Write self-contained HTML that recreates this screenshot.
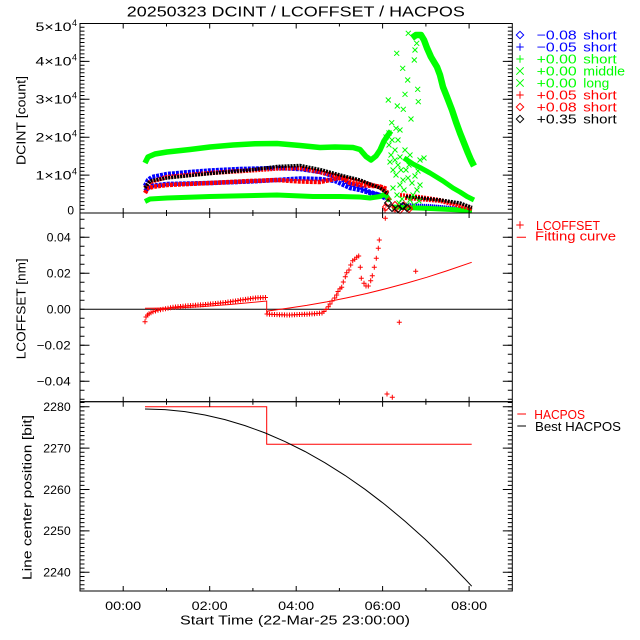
<!DOCTYPE html>
<html>
<head>
<meta charset="utf-8">
<style>
html,body{margin:0;padding:0;background:#fff;}
svg{display:block;}
text{font-family:"Liberation Sans",sans-serif;}
</style>
</head>
<body>
<svg width="640" height="640" viewBox="0 0 640 640" xmlns="http://www.w3.org/2000/svg">
<defs>
<marker id="mpr" markerWidth="7" markerHeight="7" refX="3.5" refY="3.5" markerUnits="userSpaceOnUse" overflow="visible"><path d="M1,3.5h5M3.5,1v5" stroke="#ff0000" stroke-width="1" fill="none"/></marker>
<marker id="mgx" markerWidth="7" markerHeight="7" refX="3.5" refY="3.5" markerUnits="userSpaceOnUse" overflow="visible"><path d="M1,1l5,5M6,1l-5,5" stroke="#00ff00" stroke-width="1" fill="none"/></marker>
<marker id="mdk" markerWidth="8" markerHeight="8" refX="4" refY="4" markerUnits="userSpaceOnUse" overflow="visible"><path d="M4,0.5L7.5,4L4,7.5L0.5,4Z" stroke="#000" stroke-width="1" fill="none"/></marker>
<marker id="mdr" markerWidth="8" markerHeight="8" refX="4" refY="4" markerUnits="userSpaceOnUse" overflow="visible"><path d="M4,0.5L7.5,4L4,7.5L0.5,4Z" stroke="#ff0000" stroke-width="1" fill="none"/></marker>
</defs>
<rect x="0" y="0" width="640" height="640" fill="#fff"/>

<!-- Title -->
<text x="295.8" y="16.7" font-size="15" text-anchor="middle" textLength="338" lengthAdjust="spacingAndGlyphs">20250323 DCINT / LCOFFSET / HACPOS</text>

<!-- ===== TOP PANEL DATA ===== -->
<g fill="none" stroke-linejoin="round">
<!-- blue diamond -->
<polyline stroke="#0000ff" stroke-width="4.5" stroke-dasharray="3 1" points="145,186 148,180 152,177 167,174 190,172 210,170.5 240,169 277,168 300,169 320,172 340,178 350,184 360,187 370,192 380,195 386,199"/>
<polyline stroke="#0000ff" stroke-width="4" stroke-dasharray="1 1" points="396,208 405,205 420,206 440,207 460,209 472,210"/>
<!-- blue plus -->
<polyline stroke="#0000ff" stroke-width="4.5" stroke-dasharray="3 1" points="145,191 150,186 167,184 210,183 250,181.5 277,180 300,178.5 320,179 335,181 350,188 360,190 370,193 380,195 387,198"/>
<polyline stroke="#0000ff" stroke-width="4" stroke-dasharray="1 1" points="400,205 430,206 472,210"/>
<!-- green plus -->
<polyline stroke="#00ff00" stroke-width="5" points="145,201.5 150,199 167,198 210,196.5 277,195 313,196.5 340,196.5 360,197 370,198 380,196.5 385,194 390,201"/>
<polyline stroke="#00ff00" stroke-width="5" points="392,207 430,208.5 472,210.5"/>
<!-- green x middle -->
<polyline stroke="#00ff00" stroke-width="5.5" points="145,163 148,157 155,154 167,152 190,149.5 210,147 233,145 255,143.8 277,143.5 300,145.5 320,147.5 335,147 353,147.5 360,149.5 366,156.5 371,160 376,156 380,150 384,141 388,135 391,131"/>
<polyline stroke="#00ff00" stroke-width="6.5" points="412,38 416,35 421,35 424,40 427,48 431,57 437,67 440,75 443,87 447,97 452,110 456,122 460,133 464,143 468,153 471,160 474,166"/>
<!-- green x long -->
<polyline stroke="#00ff00" stroke-width="5" points="404,158 413,164 420,167.5 430,173 443,181 453,188 460,192 467,196.5 474,200"/>
<!-- red plus -->
<polyline stroke="#ff0000" stroke-width="4.5" stroke-dasharray="3 1" points="145,193 148,188 155,186.5 167,185 210,183 250,181 277,180 300,181.5 320,182 330,180 337,178 343,178.5 350,183 360,185 380,186.5 387,189"/>
<polyline stroke="#ff0000" stroke-width="4" stroke-dasharray="2 1" points="400,195 420,197 440,200 470,207"/>
<!-- red diamond -->
<polyline stroke="#ff0000" stroke-width="4.5" stroke-dasharray="2 1" points="145,188 150,182 167,177 210,173 250,170.5 277,168.5 300,168 320,172 340,177 360,182 380,187 388,193"/>
<polyline stroke="#ff0000" stroke-width="4" stroke-dasharray="2 1" points="405,198 440,201 472,209"/>
<!-- black diamond -->
<polyline stroke="#000000" stroke-width="3.5" stroke-dasharray="2 1" points="145,188 150,181 167,178 210,173.5 250,170 277,166.5 300,165.5 320,169.5 340,175 360,180 370,184 380,188 388,194"/>
<polyline stroke="#000000" stroke-width="3.5" stroke-dasharray="2 1" points="406,196.5 420,198 440,200 460,203 472,207.5"/>
</g>
<!-- scattered symbols -->
<polyline fill="none" stroke="none" marker-start="url(#mgx)" marker-mid="url(#mgx)" marker-end="url(#mgx)" points="396.7,53.3 402.7,68.3 407.7,80 405,94.3 388.3,100 397.3,106 403.3,109.3 411,119 391.7,122.7 396,128.3 400,130 417.7,89.3 418.3,101.7 415,50 414.3,60 416.7,43.3 408.3,33.3 392,140 389,145 391,155 395,160 398,165 401,170 396,175 400,185 404,190 408,178 412,183 415,176 418,171 410,200 402,199 397,195 393,188 413,195 417,190 420,160 424,158 395,150 398,140 390,162 393,170 406,170 409,165 403,180 399,203 407,205 414,205 419,201 420,185 386,137 389,133 410,155 405,150 400,157"/>
<polyline fill="none" stroke="none" marker-start="url(#mpr)" marker-mid="url(#mpr)" marker-end="url(#mpr)" points="386,205 389,199 393,207 395,211 404,203 410,207 385,210"/>
<polyline fill="none" stroke="none" marker-start="url(#mdr)" marker-mid="url(#mdr)" marker-end="url(#mdr)" points="386,207 400,210 395,205 409,209"/>
<polyline fill="none" stroke="none" marker-start="url(#mdk)" marker-mid="url(#mdk)" marker-end="url(#mdk)" points="392,208 398,209 403,206 388,203 407,208"/>

<!-- ===== MIDDLE PANEL DATA ===== -->
<line x1="80" y1="309.3" x2="512.3" y2="309.3" stroke="#000" stroke-width="1"/>
<path fill="none" stroke="#ff0000" stroke-width="1" d="M145,308.3 L175,308 L200,306.8 L230,304.5 L266.7,301 V314 L268,311 L286.7,308.4 L306.7,305.4 L326.7,301.9 L346.7,297.9 L366.7,293.5 L386.7,288.5 L406.7,283.1 L426.7,277.3 L446.7,270.9 L471.7,262.3"/>
<polyline fill="none" stroke="none" marker-start="url(#mpr)" marker-mid="url(#mpr)" marker-end="url(#mpr)" points="145,321.7 146,317 147.5,315 149,313.8 151,312.8 153,311.8 155.5,311 158,310.3 160.5,309.7 163,309.2 165.5,308.7 168,308.2 170.5,307.7 173,307.3 175.5,307 178,306.8 180.5,306.5 183,306.2 185.5,306 188,305.8 190.5,305.6 193,305.4 195.5,305.2 198,305 200.5,304.9 203,304.7 205.5,304.5 208,304.3 210.5,304 213,303.8 215.5,303.5 218,303.3 220.5,303 223,302.8 225.5,302.5 228,302 230.5,301.7 233,301.3 235.5,301 238,300.5 240.5,300 243,299.7 245.5,299.4 248,299 250.5,298.6 253,298.3 255.5,298 258,297.8 260.5,297.7 263,297.6 265.5,297.5 267,314 269.5,314.2 272,314.4 274.5,314.5 277,314.6 279.5,314.7 282,314.8 284.5,314.9 287,315 289.5,315 292,314.9 294.5,314.8 297,314.6 299.5,314.5 302,314.4 304.5,314.3 307,314.2 309.5,314 312,313.9 314.5,313.7 317,313.5 319.5,313.3 322,313 324,311.5 326,309.5 328.3,306.7 330,304 332,301 334.7,298 336.7,295 338,291.5 340,288.7 341.7,287.3 343.3,282 345.3,276.7 346.7,272.7 349,270 350.7,265 352.7,260.7 354.7,259.3 356.7,257.3 358.7,256 360.3,267.3 361.3,278.3 364,283.3 366,286 368.3,286 370.7,280.7 372.3,275.7 374.3,267.3 376.3,258.3 378.3,248.3 379.3,240 385.3,218.3 387,394 392.3,397.3 399.3,322.3 415.7,271.3"/>

<!-- ===== BOTTOM PANEL DATA ===== -->
<path fill="none" stroke="#ff0000" stroke-width="1" d="M145,406.7 H266.7 V444.3 H471.7"/>
<polyline fill="none" stroke="#000" stroke-width="1" points="145,409 165,409.66 185,411.66 205,414.98 225,419.62 245,425.6 265,432.9 285,441.54 305,451.5 325,462.78 345,475.4 365,489.34 385,504.6 405,521.2 425,539.1 445,558.4 465,579 471.7,586.2"/>

<!-- ===== AXES ===== -->
<g stroke="#000" stroke-width="1" fill="none">
<rect x="80" y="23.5" width="432.3" height="189.5"/>
<rect x="80" y="213" width="432.3" height="188.7"/>
<rect x="80" y="401.7" width="432.3" height="189.3"/>
</g>
<!-- minor y ticks via dash arrays -->
<g fill="none" stroke="#000">
<line x1="82.25" y1="213.5" x2="82.25" y2="23" stroke-width="4.5" stroke-dasharray="1 2.79"/>
<line x1="510.05" y1="213.5" x2="510.05" y2="23" stroke-width="4.5" stroke-dasharray="1 2.79"/>
<line x1="82.25" y1="399.8" x2="82.25" y2="213" stroke-width="4.5" stroke-dasharray="1 8"/>
<line x1="510.05" y1="399.8" x2="510.05" y2="213" stroke-width="4.5" stroke-dasharray="1 8"/>
<line x1="82.25" y1="589.36" x2="82.25" y2="401.7" stroke-width="4.5" stroke-dasharray="1 3.14"/>
<line x1="510.05" y1="589.36" x2="510.05" y2="401.7" stroke-width="4.5" stroke-dasharray="1 3.14"/>
</g>
<!-- major y ticks -->
<path fill="none" stroke="#000" stroke-width="1" d="M80,175.1h9.5M80,137.2h9.5M80,99.3h9.5M80,61.4h9.5M512.3,175.1h-9.5M512.3,137.2h-9.5M512.3,99.3h-9.5M512.3,61.4h-9.5
M80,237.3h9.5M80,273.3h9.5M80,345.3h9.5M80,381.3h9.5M512.3,237.3h-9.5M512.3,273.3h-9.5M512.3,345.3h-9.5M512.3,381.3h-9.5
M80,406.7h9.5M80,448.1h9.5M80,489.5h9.5M80,530.9h9.5M80,572.3h9.5M512.3,406.7h-9.5M512.3,448.1h-9.5M512.3,489.5h-9.5M512.3,530.9h-9.5M512.3,572.3h-9.5"/>
<!-- x ticks -->
<path fill="none" stroke="#000" stroke-width="1" d="
M123.2,23.5v5M209.7,23.5v5M296.2,23.5v5M382.6,23.5v5M469.1,23.5v5
M166.5,23.5v3M252.9,23.5v3M339.4,23.5v3M425.9,23.5v3
M123.2,208v10M209.7,208v10M296.2,208v10M382.6,208v10M469.1,208v10
M166.5,210v6M252.9,210v6M339.4,210v6M425.9,210v6
M123.2,396.7v10M209.7,396.7v10M296.2,396.7v10M382.6,396.7v10M469.1,396.7v10
M166.5,398.7v6M252.9,398.7v6M339.4,398.7v6M425.9,398.7v6
M123.2,591v-5M209.7,591v-5M296.2,591v-5M382.6,591v-5M469.1,591v-5
M166.5,591v-3M252.9,591v-3M339.4,591v-3M425.9,591v-3"/>

<!-- ===== TICK LABELS ===== -->
<g font-size="12" fill="#000">
<text x="71.5" y="31" text-anchor="end" textLength="36" lengthAdjust="spacingAndGlyphs">5×10</text><text x="72" y="26" font-size="9">4</text>
<text x="71.5" y="65.7" text-anchor="end" textLength="36" lengthAdjust="spacingAndGlyphs">4×10</text><text x="72" y="60.7" font-size="9">4</text>
<text x="71.5" y="103.6" text-anchor="end" textLength="36" lengthAdjust="spacingAndGlyphs">3×10</text><text x="72" y="98.6" font-size="9">4</text>
<text x="71.5" y="141.5" text-anchor="end" textLength="36" lengthAdjust="spacingAndGlyphs">2×10</text><text x="72" y="136.5" font-size="9">4</text>
<text x="71.5" y="179.4" text-anchor="end" textLength="36" lengthAdjust="spacingAndGlyphs">1×10</text><text x="72" y="174.4" font-size="9">4</text>
<text x="74" y="214.3" text-anchor="end">0</text>

<text x="70.7" y="241.6" text-anchor="end" textLength="24" lengthAdjust="spacingAndGlyphs">0.04</text>
<text x="70.7" y="277.6" text-anchor="end" textLength="24" lengthAdjust="spacingAndGlyphs">0.02</text>
<text x="70.7" y="313.6" text-anchor="end" textLength="24" lengthAdjust="spacingAndGlyphs">0.00</text>
<text x="70.7" y="349.6" text-anchor="end" textLength="34" lengthAdjust="spacingAndGlyphs">−0.02</text>
<text x="70.7" y="385.6" text-anchor="end" textLength="34" lengthAdjust="spacingAndGlyphs">−0.04</text>

<text x="70.7" y="411" text-anchor="end" textLength="27.4" lengthAdjust="spacingAndGlyphs">2280</text>
<text x="70.7" y="452.4" text-anchor="end" textLength="27.4" lengthAdjust="spacingAndGlyphs">2270</text>
<text x="70.7" y="493.8" text-anchor="end" textLength="27.4" lengthAdjust="spacingAndGlyphs">2260</text>
<text x="70.7" y="535.2" text-anchor="end" textLength="27.4" lengthAdjust="spacingAndGlyphs">2250</text>
<text x="70.7" y="576.6" text-anchor="end" textLength="27.4" lengthAdjust="spacingAndGlyphs">2240</text>

<text x="123.2" y="610" text-anchor="middle" textLength="36" lengthAdjust="spacingAndGlyphs">00:00</text>
<text x="209.7" y="610" text-anchor="middle" textLength="36" lengthAdjust="spacingAndGlyphs">02:00</text>
<text x="296.2" y="610" text-anchor="middle" textLength="36" lengthAdjust="spacingAndGlyphs">04:00</text>
<text x="382.6" y="610" text-anchor="middle" textLength="36" lengthAdjust="spacingAndGlyphs">06:00</text>
<text x="469.1" y="610" text-anchor="middle" textLength="36" lengthAdjust="spacingAndGlyphs">08:00</text>
</g>

<!-- axis titles -->
<g font-size="13" fill="#000">
<text transform="translate(25.7,120.5) rotate(-90)" text-anchor="middle" textLength="89" lengthAdjust="spacingAndGlyphs">DCINT [count]</text>
<text transform="translate(25.7,308.8) rotate(-90)" text-anchor="middle" textLength="101" lengthAdjust="spacingAndGlyphs">LCOFFSET [nm]</text>
<text transform="translate(31.5,497.5) rotate(-90)" text-anchor="middle" textLength="165" lengthAdjust="spacingAndGlyphs">Line center position [bit]</text>
<text x="295" y="624.5" text-anchor="middle" textLength="230" lengthAdjust="spacingAndGlyphs">Start Time (22-Mar-25 23:00:00)</text>
</g>

<!-- ===== LEGEND 1 ===== -->
<g fill="none" stroke-width="1">
<path stroke="#0000ff" d="M520,31.3L523.7,35L520,38.7L516.3,35Z"/>
<path stroke="#0000ff" d="M516.3,47h7.4M520,43.3v7.4"/>
<path stroke="#00ff00" d="M516.3,59h7.4M520,55.3v7.4"/>
<path stroke="#00ff00" d="M516.3,67.3l7.4,7.4M523.7,67.3l-7.4,7.4"/>
<path stroke="#00ff00" d="M516.3,79.3l7.4,7.4M523.7,79.3l-7.4,7.4"/>
<path stroke="#ff0000" d="M516.3,95h7.4M520,91.3v7.4"/>
<path stroke="#ff0000" d="M520,103.3L523.7,107L520,110.7L516.3,107Z"/>
<path stroke="#000000" d="M520,115.3L523.7,119L520,122.7L516.3,119Z"/>
</g>
<g font-size="13">
<text x="536.7" y="39.5" fill="#0000ff" textLength="40" lengthAdjust="spacingAndGlyphs">−0.08</text>
<text x="583.3" y="39.5" fill="#0000ff" textLength="33.4" lengthAdjust="spacingAndGlyphs">short</text>
<text x="536.7" y="51.5" fill="#0000ff" textLength="40" lengthAdjust="spacingAndGlyphs">−0.05</text>
<text x="583.3" y="51.5" fill="#0000ff" textLength="33.4" lengthAdjust="spacingAndGlyphs">short</text>
<text x="536.7" y="63.5" fill="#00ff00" textLength="40" lengthAdjust="spacingAndGlyphs">+0.00</text>
<text x="583.3" y="63.5" fill="#00ff00" textLength="33.4" lengthAdjust="spacingAndGlyphs">short</text>
<text x="536.7" y="75.5" fill="#00ff00" textLength="40" lengthAdjust="spacingAndGlyphs">+0.00</text>
<text x="583.3" y="75.5" fill="#00ff00" textLength="41.7" lengthAdjust="spacingAndGlyphs">middle</text>
<text x="536.7" y="87.5" fill="#00ff00" textLength="40" lengthAdjust="spacingAndGlyphs">+0.00</text>
<text x="583.3" y="87.5" fill="#00ff00" textLength="26" lengthAdjust="spacingAndGlyphs">long</text>
<text x="536.7" y="99.5" fill="#ff0000" textLength="40" lengthAdjust="spacingAndGlyphs">+0.05</text>
<text x="583.3" y="99.5" fill="#ff0000" textLength="33.4" lengthAdjust="spacingAndGlyphs">short</text>
<text x="536.7" y="111.5" fill="#ff0000" textLength="40" lengthAdjust="spacingAndGlyphs">+0.08</text>
<text x="583.3" y="111.5" fill="#ff0000" textLength="33.4" lengthAdjust="spacingAndGlyphs">short</text>
<text x="536.7" y="123.5" fill="#000000" textLength="40" lengthAdjust="spacingAndGlyphs">+0.35</text>
<text x="583.3" y="123.5" fill="#000000" textLength="33.4" lengthAdjust="spacingAndGlyphs">short</text>
</g>

<!-- ===== LEGEND 2 ===== -->
<path fill="none" stroke="#ff0000" stroke-width="1" d="M516.3,225h7.4M520,221.3v7.4M516.7,237.3H526"/>
<text x="536" y="230" font-size="13" fill="#ff0000" textLength="64" lengthAdjust="spacingAndGlyphs">LCOFFSET</text>
<text x="535" y="240.7" font-size="13" fill="#ff0000" textLength="81" lengthAdjust="spacingAndGlyphs">Fitting curve</text>

<!-- ===== LEGEND 3 ===== -->
<path fill="none" stroke="#ff0000" stroke-width="1" d="M517.3,414H526"/>
<path fill="none" stroke="#000" stroke-width="1" d="M517.3,426H526"/>
<text x="534.3" y="419" font-size="13" fill="#ff0000" textLength="50.7" lengthAdjust="spacingAndGlyphs">HACPOS</text>
<text x="535" y="431" font-size="13" fill="#000" textLength="86" lengthAdjust="spacingAndGlyphs">Best HACPOS</text>
</svg>
</body>
</html>
